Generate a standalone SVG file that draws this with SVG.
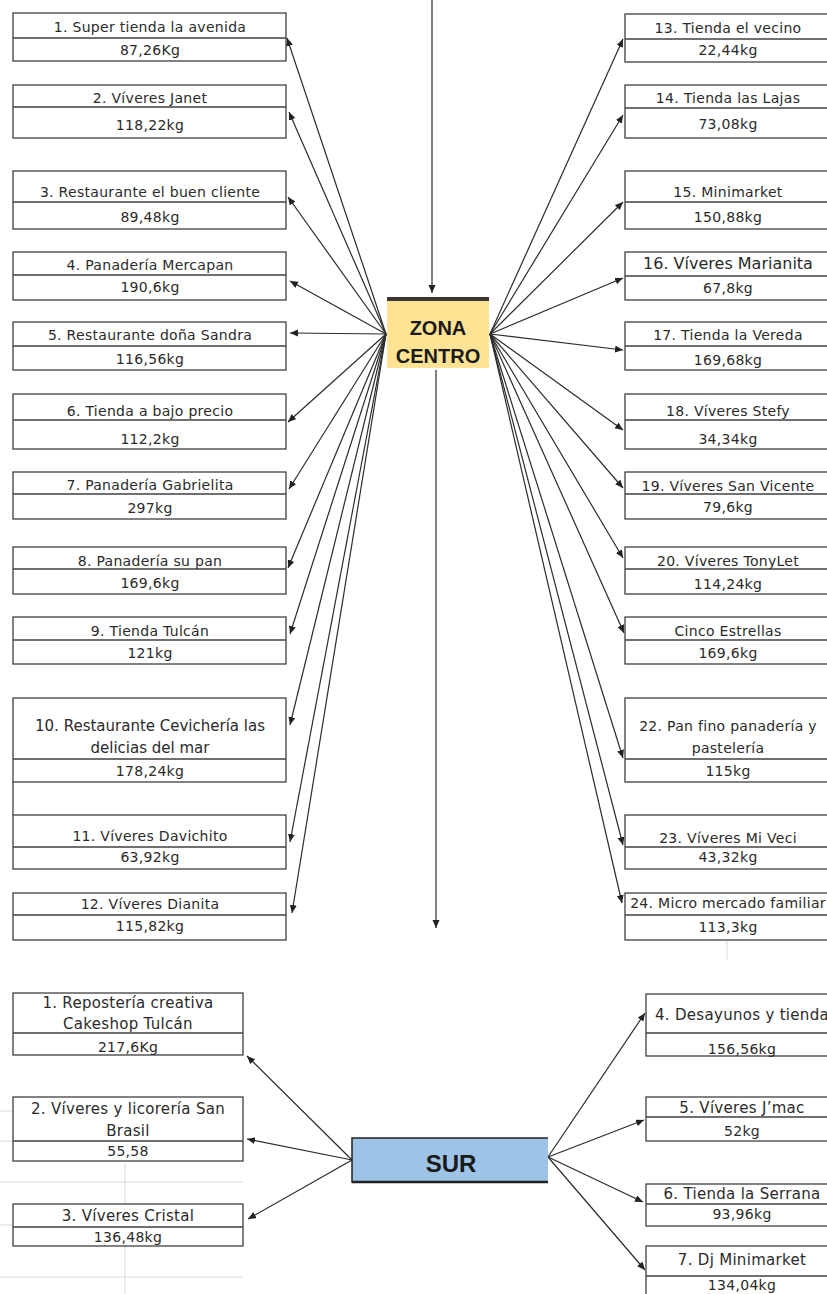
<svg xmlns="http://www.w3.org/2000/svg" width="827" height="1294" viewBox="0 0 827 1294">
<defs>
<marker id="ah" markerUnits="userSpaceOnUse" markerWidth="9" markerHeight="8" refX="8" refY="3.5" orient="auto">
<path d="M0,0 L8,3.5 L0,7 z" fill="#222"/>
</marker>
</defs>
<style>
.box{fill:#fff;stroke:#404040;stroke-width:1.3}
.div{stroke:#404040;stroke-width:1.3}
.t{font-family:"DejaVu Sans","Liberation Sans",sans-serif;font-size:14px;letter-spacing:0.3px;fill:#2b2b2b;text-anchor:middle}
.big{font-size:15px;letter-spacing:0}
.s{font-size:15px;letter-spacing:0.3px}
.c{stroke:#2b2b2b;stroke-width:1.2;fill:none;marker-end:url(#ah)}
.grid{stroke:#d9d9d9;stroke-width:1}
.hd{font-family:"Liberation Sans","DejaVu Sans",sans-serif;font-weight:bold;fill:#1a1a1a;text-anchor:middle}
</style>
<rect width="827" height="1294" fill="#fff"/>
<g id="grid">
<line class="grid" x1="125" y1="1163" x2="125" y2="1294"/>
<line class="grid" x1="0" y1="1182" x2="243" y2="1182"/>
<line class="grid" x1="0" y1="1277" x2="243" y2="1277"/>
<line class="grid" x1="0" y1="1111" x2="13" y2="1111"/>
<line class="grid" x1="0" y1="1141" x2="13" y2="1141"/>
<line class="grid" x1="0" y1="1225" x2="13" y2="1225"/>
<line class="grid" x1="727" y1="941" x2="727" y2="960"/>
</g>
<g id="connectors">
<line class="c" x1="432" y1="0" x2="432" y2="293"/>
<line class="c" x1="436" y1="370" x2="436" y2="928"/>
<line class="c" x1="386" y1="334" x2="287" y2="38"/>
<line class="c" x1="386" y1="334" x2="289" y2="112"/>
<line class="c" x1="386" y1="334" x2="288" y2="197"/>
<line class="c" x1="386" y1="334" x2="290" y2="281"/>
<line class="c" x1="386" y1="334" x2="290" y2="333"/>
<line class="c" x1="386" y1="334" x2="288" y2="422"/>
<line class="c" x1="386" y1="334" x2="289" y2="489"/>
<line class="c" x1="386" y1="334" x2="288" y2="568"/>
<line class="c" x1="386" y1="334" x2="290" y2="634"/>
<line class="c" x1="386" y1="334" x2="290" y2="725"/>
<line class="c" x1="386" y1="334" x2="290" y2="842"/>
<line class="c" x1="386" y1="334" x2="292" y2="913"/>
<line class="c" x1="490" y1="334" x2="623" y2="39"/>
<line class="c" x1="490" y1="334" x2="623" y2="115"/>
<line class="c" x1="490" y1="334" x2="623" y2="202"/>
<line class="c" x1="490" y1="334" x2="623" y2="278"/>
<line class="c" x1="490" y1="334" x2="623" y2="350"/>
<line class="c" x1="490" y1="334" x2="623" y2="430"/>
<line class="c" x1="490" y1="334" x2="623" y2="488"/>
<line class="c" x1="490" y1="334" x2="623" y2="558"/>
<line class="c" x1="490" y1="334" x2="624" y2="633"/>
<line class="c" x1="490" y1="334" x2="623" y2="758"/>
<line class="c" x1="490" y1="334" x2="623" y2="845"/>
<line class="c" x1="490" y1="334" x2="622" y2="903"/>
<line class="c" x1="352" y1="1160" x2="247" y2="1056"/>
<line class="c" x1="352" y1="1160" x2="247" y2="1139"/>
<line class="c" x1="352" y1="1160" x2="248" y2="1219"/>
<line class="c" x1="548" y1="1157" x2="645" y2="1013"/>
<line class="c" x1="548" y1="1157" x2="644" y2="1120"/>
<line class="c" x1="548" y1="1157" x2="643" y2="1202"/>
<line class="c" x1="548" y1="1157" x2="645" y2="1270"/>
</g>
<g id="zona-centro">
<rect x="387" y="299" width="102" height="69" fill="#FFE395"/>
<line x1="387" y1="299" x2="489" y2="299" stroke="#3a3530" stroke-width="4"/>
<text class="hd" x="438" y="335" font-size="20">ZONA</text>
<text class="hd" x="438" y="363" font-size="20">CENTRO</text>
</g>
<g id="sur">
<rect x="352" y="1138" width="196" height="44" fill="#9DC3E6"/>
<path d="M548,1138 H352 V1182 H548" fill="none" stroke="#222" stroke-width="1.5"/>
<line x1="352" y1="1182" x2="548" y2="1182" stroke="#222" stroke-width="2.5"/>
<text class="hd" x="451" y="1172" font-size="24">SUR</text>
</g>
<g id="n1"><rect class="box" x="13" y="13" width="273" height="48"/><line class="div" x1="13" y1="38" x2="286" y2="38"/><text class="t" x="150" y="32">1. Super tienda la avenida</text><text class="t" x="150" y="55">87,26Kg</text></g>
<g id="n2"><rect class="box" x="13" y="85" width="273" height="53"/><line class="div" x1="13" y1="107" x2="286" y2="107"/><text class="t" x="150" y="103">2. Víveres Janet</text><text class="t" x="150" y="130">118,22kg</text></g>
<g id="n3"><rect class="box" x="13" y="171" width="273" height="58"/><line class="div" x1="13" y1="202" x2="286" y2="202"/><text class="t" x="150" y="197">3. Restaurante el buen cliente</text><text class="t" x="150" y="222">89,48kg</text></g>
<g id="n4"><rect class="box" x="13" y="252" width="273" height="48"/><line class="div" x1="13" y1="275" x2="286" y2="275"/><text class="t" x="150" y="270">4. Panadería Mercapan</text><text class="t" x="150" y="292">190,6kg</text></g>
<g id="n5"><rect class="box" x="13" y="322" width="273" height="48"/><line class="div" x1="13" y1="346" x2="286" y2="346"/><text class="t" x="150" y="340">5. Restaurante doña Sandra</text><text class="t" x="150" y="364">116,56kg</text></g>
<g id="n6"><rect class="box" x="13" y="394" width="273" height="55"/><line class="div" x1="13" y1="420" x2="286" y2="420"/><text class="t" x="150" y="416">6. Tienda a bajo precio</text><text class="t" x="150" y="444">112,2kg</text></g>
<g id="n7"><rect class="box" x="13" y="472" width="273" height="47"/><line class="div" x1="13" y1="494" x2="286" y2="494"/><text class="t" x="150" y="490">7. Panadería Gabrielita</text><text class="t" x="150" y="513">297kg</text></g>
<g id="n8"><rect class="box" x="13" y="547" width="273" height="47"/><line class="div" x1="13" y1="569" x2="286" y2="569"/><text class="t" x="150" y="566">8. Panadería su pan</text><text class="t" x="150" y="588">169,6kg</text></g>
<g id="n9"><rect class="box" x="13" y="617" width="273" height="47"/><line class="div" x1="13" y1="640" x2="286" y2="640"/><text class="t" x="150" y="636">9. Tienda Tulcán</text><text class="t" x="150" y="658">121kg</text></g>
<g id="n10"><rect class="box" x="13" y="698" width="273" height="84"/><line class="div" x1="13" y1="759" x2="286" y2="759"/><line class="div" x1="13" y1="782" x2="13" y2="815"/><text class="t big" x="150" y="731">10. Restaurante Cevichería las</text><text class="t big" x="150" y="753">delicias del mar</text><text class="t" x="150" y="776">178,24kg</text></g>
<g id="n11"><rect class="box" x="13" y="815" width="273" height="54"/><line class="div" x1="13" y1="847" x2="286" y2="847"/><text class="t" x="150" y="841">11. Víveres Davichito</text><text class="t" x="150" y="862">63,92kg</text></g>
<g id="n12"><rect class="box" x="13" y="893" width="273" height="47"/><line class="div" x1="13" y1="915" x2="286" y2="915"/><text class="t" x="150" y="909">12. Víveres Dianita</text><text class="t" x="150" y="931">115,82kg</text></g>
<g id="n13"><rect class="box" x="625" y="14" width="206" height="48"/><line class="div" x1="625" y1="39" x2="831" y2="39"/><text class="t" x="728" y="33">13. Tienda el vecino</text><text class="t" x="728" y="55">22,44kg</text></g>
<g id="n14"><rect class="box" x="625" y="85" width="206" height="53"/><line class="div" x1="625" y1="108" x2="831" y2="108"/><text class="t" x="728" y="103">14. Tienda las Lajas</text><text class="t" x="728" y="129">73,08kg</text></g>
<g id="n15"><rect class="box" x="625" y="171" width="206" height="58"/><line class="div" x1="625" y1="202" x2="831" y2="202"/><text class="t" x="728" y="197">15. Minimarket</text><text class="t" x="728" y="222">150,88kg</text></g>
<g id="n16"><rect class="box" x="625" y="252" width="206" height="48"/><line class="div" x1="625" y1="276" x2="831" y2="276"/><text class="t" x="728" y="269" style="font-size:16px;letter-spacing:0">16. Víveres Marianita</text><text class="t" x="728" y="293">67,8kg</text></g>
<g id="n17"><rect class="box" x="625" y="322" width="206" height="48"/><line class="div" x1="625" y1="346" x2="831" y2="346"/><text class="t" x="728" y="340">17. Tienda la Vereda</text><text class="t" x="728" y="365">169,68kg</text></g>
<g id="n18"><rect class="box" x="625" y="394" width="206" height="55"/><line class="div" x1="625" y1="420" x2="831" y2="420"/><text class="t" x="728" y="416">18. Víveres Stefy</text><text class="t" x="728" y="444">34,34kg</text></g>
<g id="n19"><rect class="box" x="625" y="472" width="206" height="47"/><line class="div" x1="625" y1="494" x2="831" y2="494"/><text class="t" x="728" y="491">19. Víveres San Vicente</text><text class="t" x="728" y="512">79,6kg</text></g>
<g id="n20"><rect class="box" x="625" y="547" width="206" height="47"/><line class="div" x1="625" y1="569" x2="831" y2="569"/><text class="t" x="728" y="566">20. Víveres TonyLet</text><text class="t" x="728" y="589">114,24kg</text></g>
<g id="n21"><rect class="box" x="625" y="617" width="206" height="47"/><line class="div" x1="625" y1="640" x2="831" y2="640"/><text class="t" x="728" y="636">Cinco Estrellas</text><text class="t" x="728" y="658">169,6kg</text></g>
<g id="n22"><rect class="box" x="625" y="698" width="206" height="84"/><line class="div" x1="625" y1="759" x2="831" y2="759"/><text class="t" x="728" y="731">22. Pan fino panadería y</text><text class="t" x="728" y="753">pastelería</text><text class="t" x="728" y="776">115kg</text></g>
<g id="n23"><rect class="box" x="625" y="815" width="206" height="54"/><line class="div" x1="625" y1="847" x2="831" y2="847"/><text class="t" x="728" y="843">23. Víveres Mi Veci</text><text class="t" x="728" y="862">43,32kg</text></g>
<g id="n24"><rect class="box" x="625" y="893" width="206" height="47"/><line class="div" x1="625" y1="915" x2="831" y2="915"/><text class="t" x="728" y="908">24. Micro mercado familiar</text><text class="t" x="728" y="932">113,3kg</text></g>
<g id="s1"><rect class="box" x="13" y="993" width="230" height="62"/><line class="div" x1="13" y1="1033" x2="243" y2="1033"/><text class="t s" x="128" y="1008">1. Repostería creativa</text><text class="t s" x="128" y="1029">Cakeshop Tulcán</text><text class="t" x="128" y="1052">217,6Kg</text></g>
<g id="s2"><rect class="box" x="13" y="1097" width="230" height="64"/><line class="div" x1="13" y1="1141" x2="243" y2="1141"/><text class="t s" x="128" y="1114">2. Víveres y licorería San</text><text class="t s" x="128" y="1136">Brasil</text><text class="t" x="128" y="1156">55,58</text></g>
<g id="s3"><rect class="box" x="13" y="1204" width="230" height="42"/><line class="div" x1="13" y1="1227" x2="243" y2="1227"/><text class="t s" x="128" y="1221">3. Víveres Cristal</text><text class="t" x="128" y="1242">136,48kg</text></g>
<g id="s4"><rect class="box" x="646" y="994" width="192" height="62"/><line class="div" x1="646" y1="1033" x2="838" y2="1033"/><text class="t s" x="742" y="1020">4. Desayunos y tienda</text><text class="t" x="742" y="1054">156,56kg</text></g>
<g id="s5"><rect class="box" x="646" y="1097" width="192" height="44"/><line class="div" x1="646" y1="1117" x2="838" y2="1117"/><text class="t s" x="742" y="1113">5. Víveres J’mac</text><text class="t" x="742" y="1136">52kg</text></g>
<g id="s6"><rect class="box" x="646" y="1184" width="192" height="42"/><line class="div" x1="646" y1="1204" x2="838" y2="1204"/><text class="t s" x="742" y="1199">6. Tienda la Serrana</text><text class="t" x="742" y="1219">93,96kg</text></g>
<g id="s7"><rect class="box" x="646" y="1246" width="192" height="52"/><line class="div" x1="646" y1="1276" x2="838" y2="1276"/><text class="t s" x="742" y="1265">7. Dj Minimarket</text><text class="t" x="742" y="1290">134,04kg</text></g>
</svg>
